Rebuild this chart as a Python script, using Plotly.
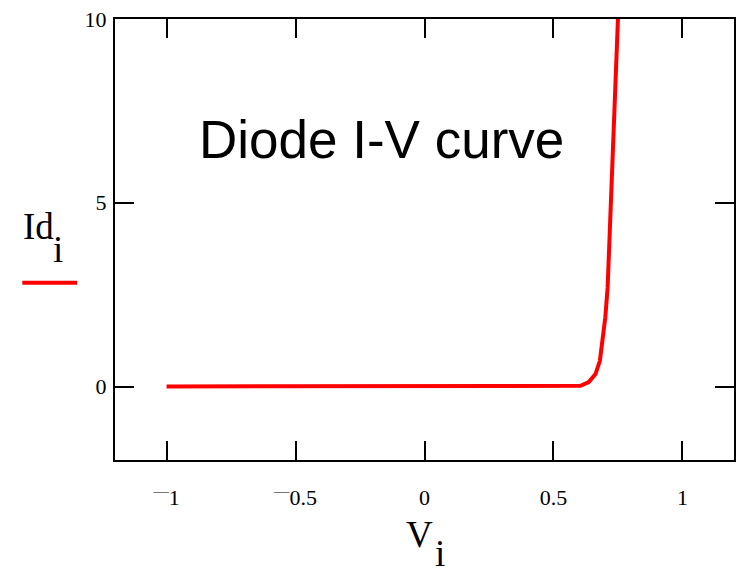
import plotly.graph_objects as go

# Data
V = [-1.0, 0.605, 0.637, 0.663, 0.680, 0.692, 0.701, 0.710, 0.718, 0.727, 0.736, 0.741, 0.746, 0.750, 0.752]
Id = [0.0, 0.02, 0.12, 0.34, 0.70, 1.34, 1.88, 2.69, 4.14, 5.49, 6.85, 7.75, 9.1, 10.0, 10.5]

x_tickvals = [-1, -0.5, 0, 0.5, 1]
x_ticktext = ["<sup>\u2014</sup>1", "<sup>\u2014</sup>0.5", "0", "0.5", "1"]
y_tickvals = [0, 5, 10]
y_ticktext = ["0", "5", "10"]

title_text = "Diode I-V curve"

serif = "Liberation Serif, Times New Roman, serif"
sans = "Liberation Sans, Arial, sans-serif"

fig = go.Figure()
fig.add_trace(go.Scatter(x=V, y=Id, mode="lines",
                         line=dict(color="#ff0000", width=4),
                         showlegend=False, hoverinfo="skip"))

axis_common = dict(showline=True, linecolor="black", linewidth=2, mirror="ticks",
                   ticks="inside", ticklen=19, tickwidth=2, tickcolor="black",
                   showgrid=False, zeroline=False,
                   tickfont=dict(family=serif, size=22, color="black"))

fig.update_xaxes(range=[-1.2, 1.2], tickvals=x_tickvals, ticktext=x_ticktext,
                 ticklabelstandoff=17, **axis_common)
fig.update_yaxes(range=[-2, 10], tickvals=y_tickvals, ticktext=y_ticktext,
                 ticklabelstandoff=2, **axis_common)

L, R, T, B = 115, 7, 17, 111
W, H = 743, 571
pw, ph = W - L - R, H - T - B

def px(x):
    return (x - L) / pw

def py(y):
    return (H - B - y) / ph

annotations = [
    dict(text=title_text, x=-0.168, y=6.72, xref="x", yref="y", showarrow=False,
         font=dict(family=sans, size=53, color="black"), xanchor="center", yanchor="middle"),
    dict(text="V", x=px(420), y=py(535), xref="paper", yref="paper", showarrow=False,
         font=dict(family=serif, size=37, color="black"), xanchor="center", yanchor="middle"),
    dict(text="i", x=px(441), y=py(554), xref="paper", yref="paper", showarrow=False,
         font=dict(family=serif, size=37, color="black"), xanchor="center", yanchor="middle"),
    dict(text="Id", x=px(38), y=py(225), xref="paper", yref="paper", showarrow=False,
         font=dict(family=serif, size=37, color="black"), xanchor="center", yanchor="middle"),
    dict(text="i", x=px(58), y=py(249), xref="paper", yref="paper", showarrow=False,
         font=dict(family=serif, size=37, color="black"), xanchor="center", yanchor="middle"),
]

fig.add_shape(type="line", xref="paper", yref="paper",
              x0=px(22), x1=px(77), y0=py(282), y1=py(282),
              line=dict(color="#ff0000", width=4))

fig.update_layout(width=W, height=H, margin=dict(l=L, r=R, t=T, b=B),
                  paper_bgcolor="white", plot_bgcolor="white",
                  annotations=annotations)

fig.write_html("out.html", config={"displayModeBar": False},
               post_script="document.body.style.margin='0';document.body.style.padding='0';")
